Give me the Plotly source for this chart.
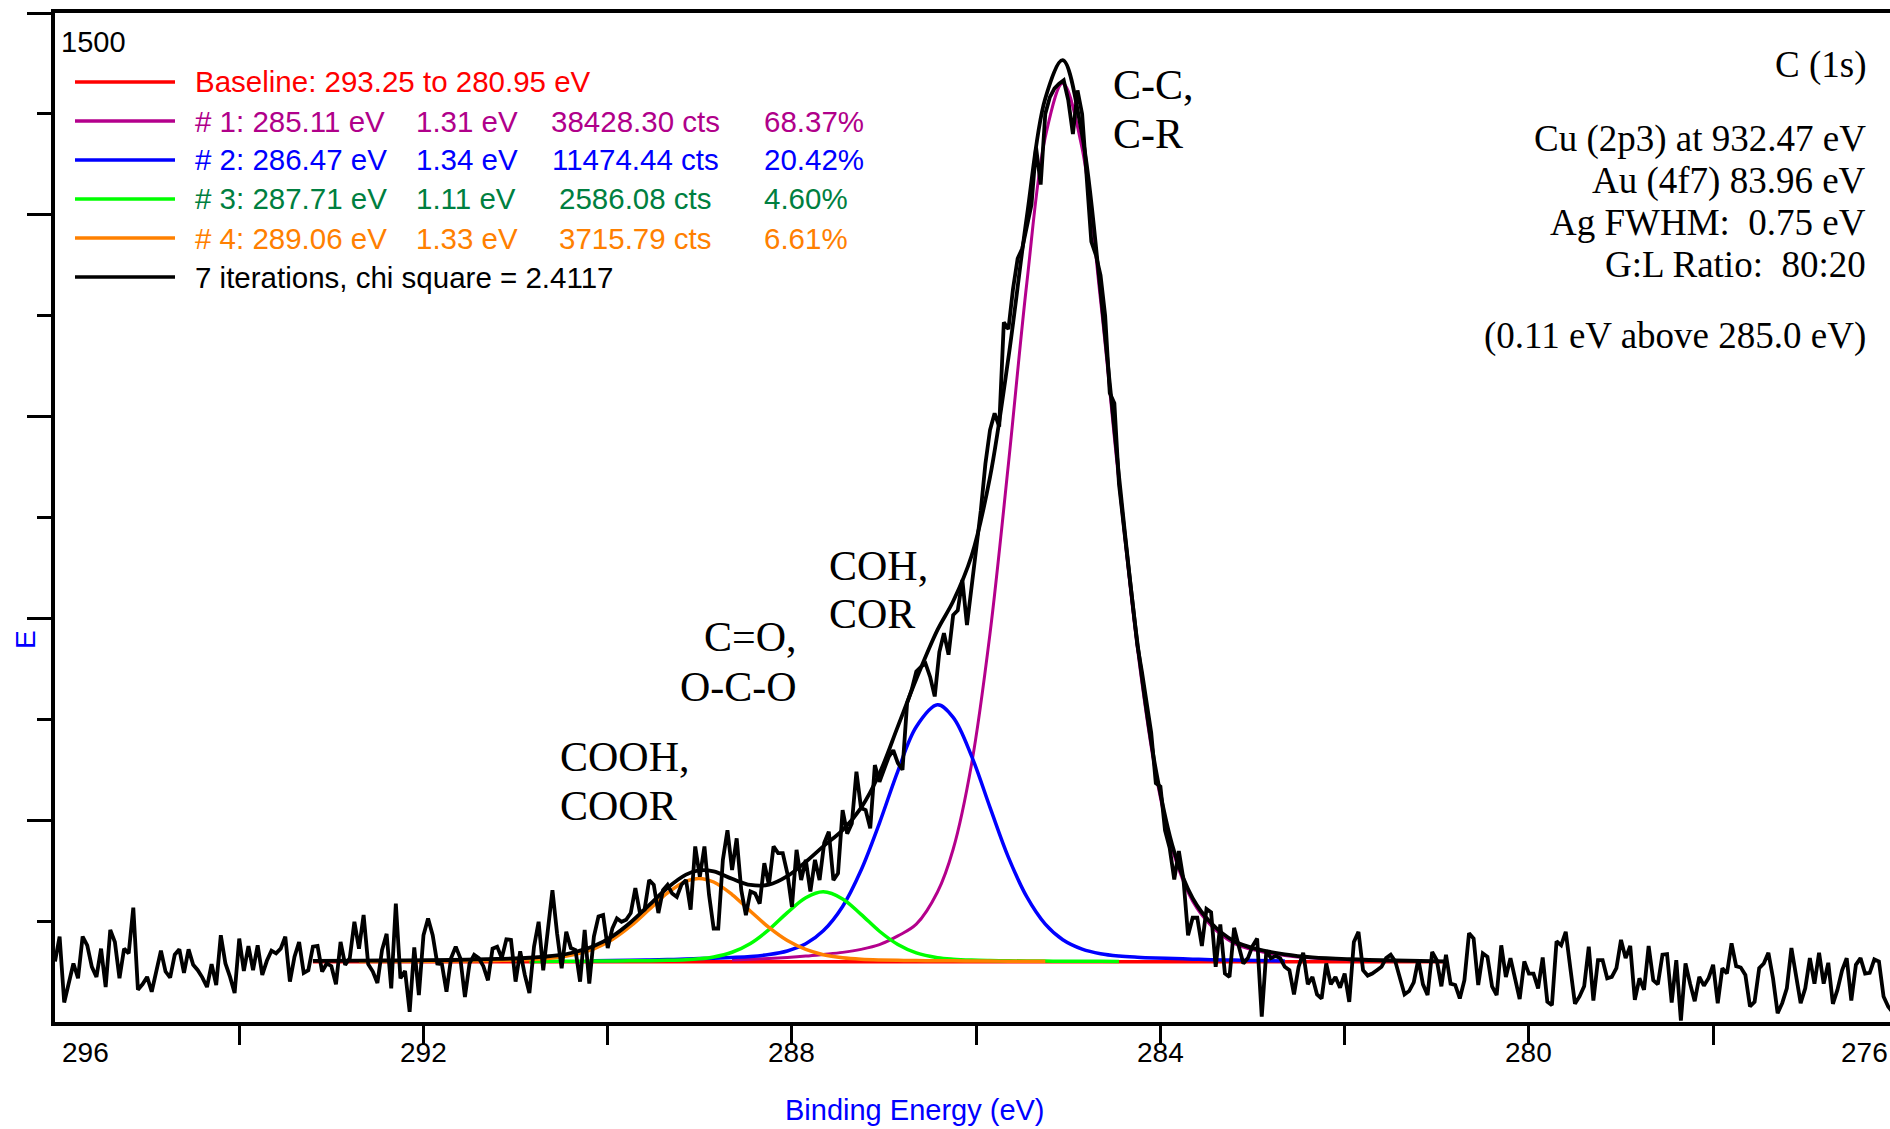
import numpy as np
import plotly.graph_objects as go

# ---------------- data ----------------
be_start = 296.0      # first raw sample (eV)
be_step = 0.05        # raw sampling step (eV)

raw_counts = [
    90, 127, 29, 57, 87, 65, 127, 114, 82, 67,
    109, 52, 137, 119, 65, 109, 102, 170, 48, 56,
    67, 45, 77, 106, 75, 66, 100, 108, 73, 108,
    85, 77, 66, 52, 86, 55, 129, 87, 67, 43,
    124, 76, 113, 77, 114, 70, 91, 106, 102, 109,
    127, 60, 97, 119, 73, 77, 112, 113, 75, 87,
    83, 56, 119, 85, 95, 149, 109, 159, 86, 75,
    58, 107, 131, 50, 176, 65, 76, 15, 111, 40,
    129, 154, 129, 87, 86, 45, 95, 112, 95, 37,
    87, 100, 95, 83, 62, 109, 112, 95, 123, 122,
    60, 105, 70, 43, 112, 149, 77, 137, 196, 132,
    80, 134, 110, 107, 60, 137, 57, 127, 157, 159,
    110, 139, 154, 149, 152, 162, 199, 162, 167, 211,
    204, 162, 196, 204, 191, 186, 204, 211, 167, 261,
    216, 261, 189, 139, 139, 241, 285, 226, 273, 196,
    159, 194, 191, 176, 236, 204, 261, 251, 251, 221,
    171, 256, 211, 241, 194, 241, 211, 266, 283, 211,
    221, 315, 280, 295, 372, 318, 315, 288, 382, 357,
    377, 394, 404, 385, 375, 474, 494, 521, 528, 533,
    513, 484, 550, 578, 546, 605, 612, 657, 590, 647,
    700, 760, 830, 880, 905, 885, 1040, 1030, 1090, 1135,
    1150, 1185, 1215, 1300, 1245, 1350, 1375, 1388, 1395, 1400,
    1370, 1320, 1385, 1350, 1252, 1160, 1140, 1110, 1050, 935,
    920, 800, 740, 680, 615, 560,
    520, 470, 430, 355, 350, 285, 259, 212, 254, 212,
    129, 155, 155, 113, 168, 163, 82, 145, 72, 67,
    140, 113, 87, 95, 113, 124, 8, 106, 95, 98,
    95, 82, 77, 41, 82, 103, 56, 67, 41, 35,
    87, 56, 67, 51, 72, 30, 119, 134, 77, 69,
    72, 77, 82, 95, 100, 90, 67, 41, 46, 59,
    93, 56, 40,
    104, 92, 53, 100, 57, 55, 35, 62, 132, 124,
    55, 102, 97, 53, 40, 114, 67, 95, 65, 34,
    90, 72, 72, 50, 96, 30, 25, 120, 114, 134,
    80, 27, 38, 53, 112, 32, 92, 92, 65, 67,
    80, 122, 95, 113, 33, 65, 48, 113, 62, 56,
    100, 101, 29, 92, 2, 87, 57, 31, 67, 54,
    65, 85, 28, 80, 72, 117, 83, 81, 70, 23,
    30, 80, 87, 103, 65, 13, 28, 50, 110, 72,
    28, 50, 95, 57, 103, 57, 88, 27, 48, 77,
    95, 32, 85, 95, 72, 73, 93, 90, 38, 23,
    15, 5,
]

fit_be = [293.20, 292.70, 292.20, 291.70, 291.20, 290.85, 290.55, 290.35, 290.15, 289.95,
          289.75, 289.55, 289.35, 289.15, 289.01, 288.85, 288.65, 288.45, 288.25, 288.05,
          287.85, 287.66, 287.45, 287.25, 287.05, 286.85, 286.65, 286.42, 286.25, 286.05,
          285.85, 285.65, 285.45, 285.25, 285.06, 284.85, 284.65, 284.45, 284.25, 284.05,
          283.85, 283.65, 283.45, 283.20, 282.95, 282.65, 282.35, 281.95, 281.45, 280.90]

N = None
comp1 = [N, N, N, N, N, N, N, N, N, N,
         N, N, N, N, N, N, 92.2, 93.2, 94.5, 96.0,
         98.0, 100.5, 103.5, 108.0, 115.0, 128.0, 145.4, 193.2, 256.8, 383.6,
         577.4, 829.7, 1099.0, 1315.3, 1395.5, 1298.6, 1073.2, 801.8, 556.0, 368.7,
         247.3, 179.4, 143.3, 117.0, 106.0, 99.0, 95.0, 92.5, 91.0, N]
comp2 = [N, N, N, N, N, N, N, N, 91.0, 91.3,
         91.7, 92.2, 92.8, 93.5, 94.3, 94.9, 96.0, 97.5, 100.3, 105.6,
         116.2, 135.5, 171.7, 225.5, 295.8, 373.1, 438.9, 471.5, 452.9, 395.3,
         319.1, 244.8, 185.9, 145.5, 122.3, 108.4, 101.6, 98.2, 96.4, 95.2,
         94.4, 93.4, 92.7, 92.0, 91.4, 90.8, N, N, N, N]
comp3 = [N, N, N, N, N, 90.1, 90.2, 90.4, 90.5, 90.7,
         90.9, 91.2, 91.7, 92.6, 93.9, 96.7, 103.7, 116.8, 137.3, 162.6,
         184.7, 193.5, 183.0, 160.0, 134.9, 115.2, 102.7, 95.6, 93.3, 92.0,
         91.4, 91.0, 90.7, 90.5, 90.4, 90.3, 90.2, 90.1, N, N,
         N, N, N, N, N, N, N, N, N, N]
comp4 = [N, 90.0, 90.2, 90.5, 91.5, 92.9, 95.8, 100.5, 108.8, 122.6,
         142.7, 167.3, 191.8, 209.4, 213.5, 208.1, 189.5, 164.7, 140.5, 121.0,
         107.8, 100.1, 95.6, 93.4, 92.3, 91.7, 91.3, 91.1, 90.9, 90.7,
         90.6, 90.4, 90.3, 90.2, N, N, N, N, N, N,
         N, N, N, N, N, N, N, N, N, N]
envelope = [90.8, 91.2, 91.6, 92.2, 93.7, 95.5, 98.9, 104.1, 112.8, 127.3,
            148.2, 173.8, 199.6, 219.1, 225.5, 223.9, 212.9, 203.7, 204.1, 216.7,
            238.2, 261.1, 285.3, 318.4, 369.5, 439.5, 509.8, 582.9, 625.4, 693.1,
            810.0, 987.4, 1197.4, 1373.0, 1429.9, 1318.9, 1086.5, 811.6, 563.9, 375.3,
            253.0, 184.0, 147.1, 120.1, 108.3, 100.6, 96.1, 93.3, 91.4, 90.2]
baseline_be = [293.20, 280.90]
baseline_cps = [89.5, 89.5]

x_major_ticks = [294, 292, 290, 288, 286, 284, 282, 280, 278]
x_tick_labels = [292, 288, 284, 280]
y_major_ticks = [300, 600, 900, 1200, 1500]
y_minor_ticks = [150, 450, 750, 1050, 1350]

legend_baseline = "Baseline: 293.25 to 280.95 eV"
legend_peak = ["# 1: 285.11 eV", "# 2: 286.47 eV", "# 3: 287.71 eV", "# 4: 289.06 eV"]
legend_fwhm = ["1.31 eV", "1.34 eV", "1.11 eV", "1.33 eV"]
legend_area = ["38428.30 cts", "11474.44 cts", "2586.08 cts", "3715.79 cts"]
legend_pct = ["68.37%", "20.42%", "4.60%", "6.61%"]
legend_chi = "7 iterations, chi square = 2.4117"

info_lines = ["C (1s)", "Cu (2p3) at 932.47 eV", "Au (4f7) 83.96 eV",
              "Ag FWHM:  0.75 eV", "G:L Ratio:  80:20", "(0.11 eV above 285.0 eV)"]

# ---------------- styles ----------------
RED = "#FF0000"
MAG_LINE = "#B4008C"
MAG_TEXT = "#B0008A"
BLUE = "#0000FF"
GREEN_LINE = "#00FF00"
GREEN_TEXT = "#007F40"
ORANGE = "#FF8000"
BLACK = "#000000"
SANS = "Liberation Sans, Arial, sans-serif"
SERIF = "Liberation Serif, Times New Roman, serif"

W, H = 1890, 1129
ML, MR, MT, MB = 55, 0, 13, 107
PW, PH = W - ML - MR, H - MT - MB


def px(x):
    return (x - ML) / PW


def py(y):
    return (H - MB - y) / PH


raw_be = np.round(be_start - be_step * np.arange(len(raw_counts)), 2)

fig = go.Figure()
fig.add_trace(go.Scatter(x=baseline_be, y=baseline_cps, mode="lines",
                         line=dict(color=RED, width=3.5), hoverinfo="skip"))
for comp, col, wd in [(comp1, MAG_LINE, 3), (comp2, BLUE, 3.5),
                      (comp3, GREEN_LINE, 3.5), (comp4, ORANGE, 3.5)]:
    fig.add_trace(go.Scatter(x=fit_be, y=comp, mode="lines",
                             line=dict(color=col, width=wd, shape="spline", smoothing=1.0),
                             connectgaps=False, hoverinfo="skip"))
fig.add_trace(go.Scatter(x=raw_be, y=raw_counts, mode="lines",
                         line=dict(color=BLACK, width=3.8), hoverinfo="skip"))
fig.add_trace(go.Scatter(x=fit_be, y=envelope, mode="lines",
                         line=dict(color=BLACK, width=3.8, shape="spline", smoothing=1.0),
                         hoverinfo="skip"))

annotations = []
shapes = []


def txt(text, x, y, size, color=BLACK, family=SANS, xanchor="left", xref="paper", angle=0):
    annotations.append(dict(text=text, x=x, y=y, xref=xref, yref="paper", showarrow=False,
                            xanchor=xanchor, yanchor="middle", textangle=angle,
                            font=dict(family=family, size=size, color=color)))


# legend block
row_y = [82, 121, 160, 199, 238, 277]
line_cols = [RED, MAG_LINE, BLUE, GREEN_LINE, ORANGE, BLACK]
text_cols = [RED, MAG_TEXT, BLUE, GREEN_TEXT, ORANGE, BLACK]
for yy, lc in zip(row_y, line_cols):
    shapes.append(dict(type="line", xref="paper", yref="paper", x0=px(75), x1=px(175),
                       y0=py(yy), y1=py(yy), line=dict(color=lc, width=3.5)))
LFS = 29.5
txt(legend_baseline, px(193), py(row_y[0]), LFS, RED)
for i in range(4):
    yy = py(row_y[i + 1])
    c = text_cols[i + 1]
    txt(legend_peak[i], px(193), yy, LFS, c)
    txt(legend_fwhm[i], px(414), yy, LFS, c)
    txt(legend_area[i], px(635), yy, LFS, c, xanchor="center")
    txt(legend_pct[i], px(762), yy, LFS, c)
txt(legend_chi, px(193), py(row_y[5]), LFS, BLACK)

# top-left scale label
txt("1500", px(59), py(42), 29)

# info block, right side
info_y = [65, 139, 181, 222, 264, 336]
for t, yy in zip(info_lines, info_y):
    txt(t, px(1868), py(yy), 37, BLACK, SERIF, xanchor="right")

# peak labels
PFS = 42
txt("C-C,", px(1111), py(85), PFS, BLACK, SERIF)
txt("C-R", px(1111), py(134), PFS, BLACK, SERIF)
txt("COH,", px(827), py(566), PFS, BLACK, SERIF)
txt("COR", px(827), py(614), PFS, BLACK, SERIF)
txt("C=O,", px(799), py(637), PFS, BLACK, SERIF, xanchor="right")
txt("O-C-O", px(799), py(687), PFS, BLACK, SERIF, xanchor="right")
txt("COOH,", px(558), py(757), PFS, BLACK, SERIF)
txt("COOR", px(558), py(806), PFS, BLACK, SERIF)

# x tick labels
for v in x_tick_labels:
    txt(str(v), v, py(1052), 28, BLACK, SANS, xanchor="center", xref="x")
txt("296", px(60), py(1052), 28)
txt("276", 1.0, py(1052), 28, xanchor="right")

# axis titles
txt("Binding Energy (eV)", px(915), py(1110), 29, BLUE, xanchor="center")
txt("E", px(25), py(640), 28, BLUE, xanchor="center", angle=-90)

fig.update_layout(
    width=W, height=H,
    margin=dict(l=ML, r=MR, t=MT, b=MB, pad=0),
    paper_bgcolor="white", plot_bgcolor="white",
    showlegend=False,
    annotations=annotations, shapes=shapes,
    xaxis=dict(range=[296.0, 276.08], showgrid=False, zeroline=False,
               showline=True, linecolor=BLACK, linewidth=3.5, mirror=True,
               ticks="outside", tickvals=x_major_ticks, ticklen=19, tickwidth=3,
               tickcolor=BLACK, showticklabels=False),
    yaxis=dict(range=[0, 1500], showgrid=False, zeroline=False,
               showline=True, linecolor=BLACK, linewidth=3.5,
               ticks="outside", tickvals=y_major_ticks, ticklen=24, tickwidth=3,
               tickcolor=BLACK, showticklabels=False,
               minor=dict(tickvals=y_minor_ticks, ticks="outside", ticklen=14,
                          tickwidth=3, tickcolor=BLACK)),
)

fig.write_html("out.html", include_plotlyjs=True, full_html=True,
               config={"displayModeBar": False})
